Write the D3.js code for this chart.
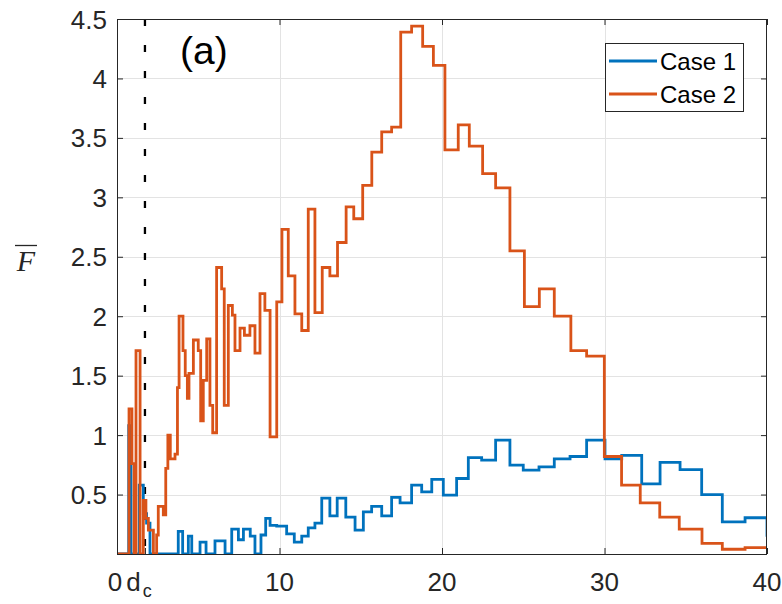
<!DOCTYPE html>
<html>
<head>
<meta charset="utf-8">
<script src="https://cdn.jsdelivr.net/npm/d3@7"></script>
<style>
  html, body { margin: 0; padding: 0; background: #fff; }
  svg { display: block; }
</style>
</head>
<body>
<svg id="chart" width="782" height="604"></svg>
<script>
// ---- data ----
const dc = 1.72;
const xTickValues = [0, dc, 10, 20, 30, 40];
const xTickLabels = ["0", "d_c", "10", "20", "30", "40"];
const yTickValues = [0.5, 1, 1.5, 2, 2.5, 3, 3.5, 4, 4.5];
const yTickLabels = ["0.5", "1", "1.5", "2", "2.5", "3", "3.5", "4", "4.5"];
const seriesNames = ["Case 1", "Case 2"];

// Case 1: bin left edges and values (stairs)
const case1X = [0, 0.72, 0.86, 1.37, 1.62, 1.82, 2.03, 3.77, 4.04, 4.39, 4.6, 5.11, 5.48, 6.03, 6.65,
  7.06, 7.47, 7.78, 8.2, 8.49, 8.86, 9.15, 9.42, 9.83, 10.44, 10.91, 11.37, 11.77, 12.18, 12.6,
  13.1, 13.55, 14.08, 14.65, 15.16, 15.67, 16.29, 16.9, 17.42, 18.13, 18.75, 19.37, 20.08, 20.9,
  21.62, 22.44, 23.3, 24.18, 25.0, 25.97, 26.91, 27.88, 28.9, 30.03, 31.06, 32.29, 33.42, 34.65,
  35.98, 37.25, 38.65, 40];
const case1Y = [0, 1.08, 0, 0.58, 0.34, 0.26, 0, 0.19, 0, 0.15, 0, 0.10, 0, 0.11, 0,
  0.21, 0.12, 0.21, 0.15, 0, 0.16, 0.30, 0.24, 0.235, 0.17, 0.10, 0.15, 0.22, 0.26, 0.47,
  0.32, 0.47, 0.31, 0.20, 0.355, 0.40, 0.32, 0.476, 0.43, 0.58, 0.523, 0.627, 0.495, 0.635,
  0.81, 0.79, 0.957, 0.747, 0.705, 0.733, 0.80, 0.82, 0.957, 0.80, 0.83, 0.59, 0.77, 0.71,
  0.50, 0.27, 0.305, 0.145];

// Case 2: bin left edges and values (stairs)
const case2X = [0, 0.74, 0.92, 1.05, 1.17, 1.42, 1.62, 1.78, 1.93, 2.24, 2.44, 2.54, 2.85, 3.0, 3.13,
  3.28, 3.57, 3.72, 3.82, 4.06, 4.2, 4.33, 4.43, 4.7, 5.0, 5.15, 5.31, 5.52, 5.72, 5.89, 6.13,
  6.44, 6.6, 6.85, 7.10, 7.26, 7.57, 7.84, 8.18, 8.49, 8.8, 9.1, 9.42, 9.83, 10.15, 10.54, 10.95,
  11.37, 11.77, 12.18, 12.63, 13.1, 13.57, 14.1, 14.57, 15.12, 15.68, 16.29, 16.9, 17.46, 18.13,
  18.81, 19.47, 20.18, 21.0, 21.68, 22.5, 23.3, 24.18, 25.07, 25.99, 26.91, 27.93, 28.9, 29.99,
  31.05, 32.2, 33.4, 34.6, 36.0, 37.25, 38.65];
const case2Y = [0, 1.22, 0.76, 0, 1.71, 0, 0.45, 0.30, 0.20, 0, 0.16, 0.40, 0.33, 0.72, 1.0,
  0.80, 0.84, 1.40, 2.0, 1.71, 1.50, 1.31, 1.52, 1.80, 1.71, 1.12, 1.46, 1.81, 1.25, 1.02, 2.41,
  2.23, 1.25, 2.09, 2.01, 1.71, 1.90, 1.84, 1.92, 1.69, 2.19, 2.05, 0.985, 2.12, 2.73, 2.34, 2.02,
  1.88, 2.90, 2.03, 2.41, 2.34, 2.62, 2.92, 2.82, 3.10, 3.38, 3.55, 3.59, 4.39, 4.44,
  4.27, 4.11, 3.40, 3.61, 3.43, 3.20, 3.08, 2.55, 2.08, 2.23, 2.00, 1.71, 1.665, 0.82,
  0.58, 0.43, 0.31, 0.21, 0.09, 0.04, 0.053];

const colors = ["#0072BD", "#D95319"];

// ---- layout ----
const svg = d3.select("#chart");
const L = 117, R = 767, T = 19, B = 554;
const x = d3.scaleLinear().domain([0, 40]).range([L, R]);
const y = d3.scaleLinear().domain([0, 4.5]).range([B, T]);
const font = "'Liberation Sans', Arial, Helvetica, sans-serif";

svg.append("rect").attr("width", 782).attr("height", 604).attr("fill", "#fff");

// grid
const grid = svg.append("g").attr("stroke", "#e3e3e3").attr("stroke-width", 1);
yTickValues.forEach(v => {
  grid.append("line").attr("x1", L).attr("x2", R).attr("y1", Math.round(y(v)) + 0.5).attr("y2", Math.round(y(v)) + 0.5);
});
xTickValues.filter(v => v >= 10 && v < 40).forEach(v => {
  grid.append("line").attr("y1", T).attr("y2", B).attr("x1", Math.round(x(v)) + 0.5).attr("x2", Math.round(x(v)) + 0.5);
});

// clip
svg.append("clipPath").attr("id", "clip").append("rect")
  .attr("x", L).attr("y", T).attr("width", R - L).attr("height", B - T);

// dashed line at d_c
svg.append("line")
  .attr("x1", x(dc)).attr("x2", x(dc)).attr("y1", T).attr("y2", B)
  .attr("stroke", "#000").attr("stroke-width", 2.3)
  .attr("stroke-dasharray", "7,19");

// stairs
const stair = d3.line().x(d => x(d[0])).y(d => y(d[1])).curve(d3.curveStepAfter);
function pts(xs, ys) {
  const p = xs.map((v, i) => [v, ys[i]]);
  p.push([40, ys[ys.length - 1]]);
  return p;
}
const lines = svg.append("g").attr("clip-path", "url(#clip)");
[[case1X, case1Y], [case2X, case2Y]].forEach((s, i) => {
  lines.append("path")
    .attr("d", stair(pts(s[0], s[1])))
    .attr("fill", "none")
    .attr("stroke", colors[i])
    .attr("stroke-width", 2.8)
    .attr("stroke-linejoin", "miter");
});

// axes box and ticks
const axisColor = "#262626";
svg.append("rect").attr("x", L + 0.5).attr("y", T + 0.5).attr("width", R - L - 1).attr("height", B - T)
  .attr("fill", "none").attr("stroke", axisColor).attr("stroke-width", 1);

const xAxisB = d3.axisBottom(x).tickValues(xTickValues).tickSizeInner(-6).tickSizeOuter(0).tickFormat("");
const xAxisT = d3.axisTop(x).tickValues(xTickValues.filter(v => v !== dc)).tickSizeInner(-6).tickSizeOuter(0).tickFormat("");
const yAxisL = d3.axisLeft(y).tickValues(yTickValues).tickSizeInner(-6).tickSizeOuter(0).tickFormat("");
const yAxisR = d3.axisRight(y).tickValues(yTickValues).tickSizeInner(-6).tickSizeOuter(0).tickFormat("");
[[xAxisB, `translate(0,${B})`], [xAxisT, `translate(0,${T})`], [yAxisL, `translate(${L},0)`], [yAxisR, `translate(${R},0)`]]
  .forEach(([ax, tr]) => {
    const g = svg.append("g").attr("transform", tr).call(ax);
    g.select(".domain").remove();
    g.selectAll("line").attr("stroke", axisColor);
  });

// tick labels
const tickFont = 26;
xTickValues.forEach((v, i) => {
  const lab = xTickLabels[i];
  if (lab === "d_c") {
    const t = svg.append("text").attr("x", x(v) - 6).attr("y", 591)
      .attr("font-family", font).attr("font-size", tickFont).attr("fill", "#262626")
      .attr("text-anchor", "middle");
    t.append("tspan").text("d");
    t.append("tspan").attr("font-size", 18).attr("dy", 6).attr("dx", 2).text("c");
  } else {
    svg.append("text").attr("x", x(v) + (v === 0 ? -2 : 0)).attr("y", 591)
      .attr("font-family", font).attr("font-size", tickFont).attr("fill", "#262626")
      .attr("text-anchor", "middle").text(lab);
  }
});
yTickValues.forEach((v, i) => {
  svg.append("text").attr("x", 107).attr("y", y(v) + 9.5)
    .attr("font-family", font).attr("font-size", tickFont).attr("fill", "#262626")
    .attr("text-anchor", "end").text(yTickLabels[i]);
});

// y-axis title: F with overline
svg.append("text").attr("x", 26).attr("y", 271)
  .attr("font-family", "'Liberation Serif', 'DejaVu Serif', serif").attr("font-style", "italic")
  .attr("font-size", 30).attr("fill", "#262626").attr("text-anchor", "middle").text("F");
svg.append("line").attr("x1", 15).attr("x2", 37).attr("y1", 245.5).attr("y2", 245.5)
  .attr("stroke", "#262626").attr("stroke-width", 1.3);

// panel label
svg.append("text").attr("x", 180).attr("y", 64)
  .attr("font-family", font).attr("font-size", 39).attr("fill", "#000").text("(a)");

// legend
const lg = svg.append("g");
lg.append("rect").attr("x", 605.5).attr("y", 43.5).attr("width", 138).attr("height", 68)
  .attr("fill", "#fff").attr("stroke", "#262626").attr("stroke-width", 1);
seriesNames.forEach((n, i) => {
  const cy = 61 + i * 33;
  lg.append("line").attr("x1", 609).attr("x2", 657).attr("y1", cy).attr("y2", cy)
    .attr("stroke", colors[i]).attr("stroke-width", 2.8);
  lg.append("text").attr("x", 660).attr("y", cy + 8.5)
    .attr("font-family", font).attr("font-size", 24).attr("fill", "#000").text(n);
});
</script>
</body>
</html>
